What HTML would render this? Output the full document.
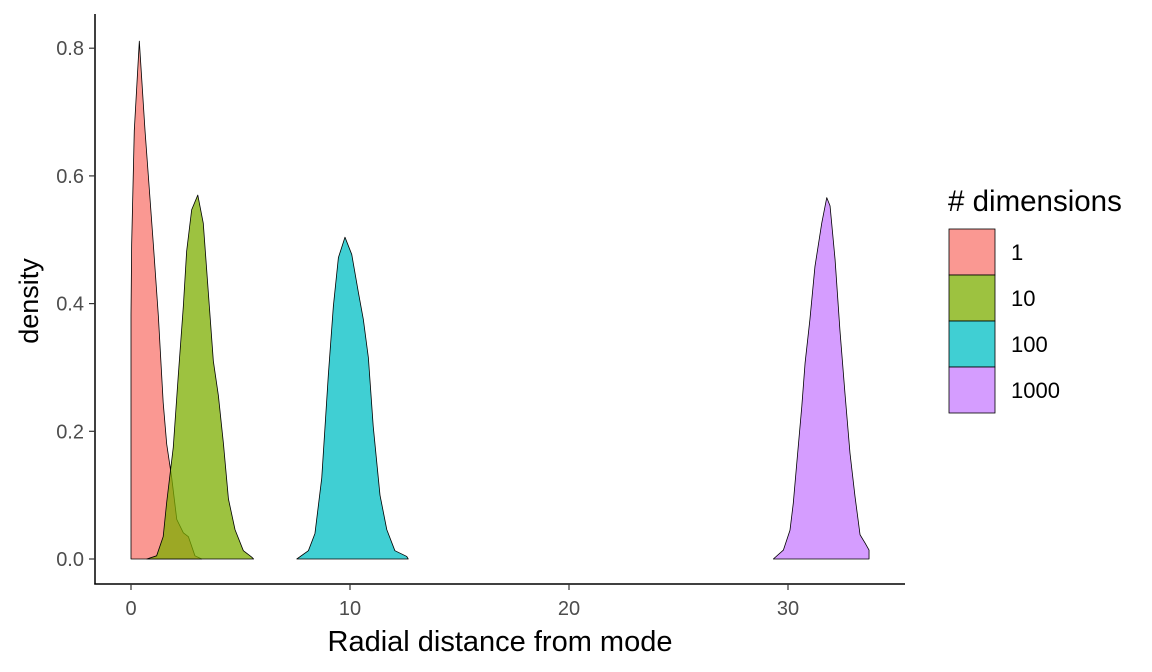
<!DOCTYPE html>
<html><head><meta charset="utf-8"><style>
html,body{margin:0;padding:0;background:#fff;}
svg{display:block;font-family:"Liberation Sans",Arial,sans-serif;}
</style></head><body>
<svg id="chart" width="1152" height="672" xmlns="http://www.w3.org/2000/svg">
<g id="marks"></g>
<line x1="95" y1="14" x2="95" y2="584.5" stroke="#000" stroke-width="1.5"/>
<line x1="94.3" y1="584" x2="905" y2="584" stroke="#000" stroke-width="1.5"/>
<g id="xticks"></g>
<g id="yticks"></g>
<text x="500" y="651" font-size="29" text-anchor="middle" fill="#000">Radial distance from mode</text>
<text transform="translate(38,301) rotate(-90)" font-size="27" text-anchor="middle" fill="#000">density</text>
<text x="948" y="211" font-size="29.5" fill="#000"># dimensions</text>
<g id="legend"></g>
</svg>
<script>
const groups = ["1","10","100","1000"];
const colors = ["#F8766D","#7CAE00","#00BFC4","#C77CFF"];
const xTicks = [0,10,20,30];
const yTicks = [0,0.2,0.4,0.6,0.8];
const yTickLabels = ["0.0","0.2","0.4","0.6","0.8"];
const x1 = [0,0,0.03,0.15,0.38,0.64,0.79,1.02,1.25,1.47,1.63,1.86,2.09,2.39,2.62,2.92,3.23];
const y1 = [0,0.383,0.493,0.671,0.811,0.671,0.601,0.493,0.380,0.245,0.180,0.127,0.062,0.041,0.035,0.005,0];
const x10 = [0.72,1.17,1.47,1.63,1.93,2.16,2.39,2.54,2.77,3.05,3.30,3.53,3.76,3.99,4.22,4.45,4.75,5.13,5.51,5.6];
const y10 = [0,0.005,0.035,0.089,0.175,0.288,0.396,0.482,0.547,0.570,0.526,0.418,0.31,0.256,0.181,0.094,0.046,0.013,0.003,0];
const x100 = [7.57,8.10,8.40,8.71,9.01,9.24,9.47,9.77,10.08,10.38,10.61,10.84,11.06,11.37,11.68,12.05,12.59,12.66];
const y100 = [0,0.013,0.04,0.127,0.288,0.396,0.472,0.504,0.477,0.418,0.375,0.315,0.208,0.1,0.046,0.013,0.004,0];
const x1000 = [29.33,29.79,30.09,30.24,30.40,30.63,30.78,31.0,31.23,31.54,31.77,31.92,32.15,32.37,32.6,32.83,33.06,33.29,33.52,33.7,33.7];
const y1000 = [0,0.014,0.045,0.087,0.15,0.239,0.307,0.375,0.458,0.526,0.566,0.553,0.469,0.359,0.26,0.166,0.098,0.038,0.025,0.014,0];

const NS="http://www.w3.org/2000/svg";
function sx(v){return 131+v*21.9;}
function sy(v){return 559-v*638.5;}
const xs=[x1,x10,x100,x1000], ys=[y1,y10,y100,y1000];
const marks=document.getElementById('marks');
for(let g=0;g<4;g++){
  let d="M"+sx(xs[g][0])+","+sy(0);
  for(let i=0;i<xs[g].length;i++) d+=" L"+sx(xs[g][i]).toFixed(2)+","+sy(ys[g][i]).toFixed(2);
  d+=" L"+sx(xs[g][xs[g].length-1])+","+sy(0)+" Z";
  const p=document.createElementNS(NS,'path');
  p.setAttribute('d',d);
  p.setAttribute('fill',colors[g]);
  p.setAttribute('fill-opacity','0.75');
  p.setAttribute('stroke','#000');
  p.setAttribute('stroke-width','0.8');
  p.setAttribute('stroke-linejoin','round');
  
  
  marks.appendChild(p);
}
const xt=document.getElementById('xticks');
xTicks.forEach(v=>{
  const l=document.createElementNS(NS,'line');
  l.setAttribute('x1',sx(v));l.setAttribute('x2',sx(v));l.setAttribute('y1',584);l.setAttribute('y2',590);
  l.setAttribute('stroke','#333');l.setAttribute('stroke-width','1.2');
  
  
  xt.appendChild(l);
  const t=document.createElementNS(NS,'text');
  t.setAttribute('x',sx(v));t.setAttribute('y',615);t.setAttribute('font-size','20');
  t.setAttribute('text-anchor','middle');t.setAttribute('fill','#4D4D4D');t.textContent=v;
  
  
  xt.appendChild(t);
});
const yt=document.getElementById('yticks');
yTicks.forEach((v,i)=>{
  const l=document.createElementNS(NS,'line');
  l.setAttribute('x1',89);l.setAttribute('x2',95);l.setAttribute('y1',sy(v));l.setAttribute('y2',sy(v));
  l.setAttribute('stroke','#333');l.setAttribute('stroke-width','1.2');
  
  
  yt.appendChild(l);
  const t=document.createElementNS(NS,'text');
  t.setAttribute('x',84);t.setAttribute('y',sy(v)+7);t.setAttribute('font-size','20');
  t.setAttribute('text-anchor','end');t.setAttribute('fill','#4D4D4D');t.textContent=yTickLabels[i];
  
  
  yt.appendChild(t);
});
const lg=document.getElementById('legend');
groups.forEach((g,i)=>{
  const y=229+i*46;
  const r=document.createElementNS(NS,'rect');
  r.setAttribute('x',949);r.setAttribute('y',y);r.setAttribute('width',46);r.setAttribute('height',46);
  r.setAttribute('fill',colors[i]);r.setAttribute('fill-opacity','0.75');r.setAttribute('stroke','#000');r.setAttribute('stroke-width','0.8');
  
  
  lg.appendChild(r);
  const t=document.createElementNS(NS,'text');
  t.setAttribute('x',1011);t.setAttribute('y',y+31);t.setAttribute('font-size','22');t.setAttribute('fill','#000');
  t.textContent=g;
  
  
  lg.appendChild(t);
});
</script>
</body></html>
